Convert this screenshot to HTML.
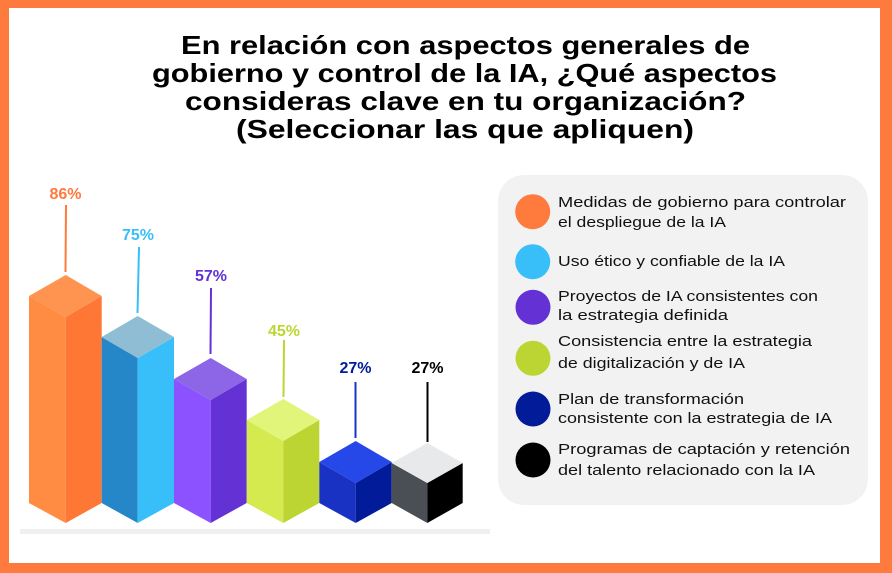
<!DOCTYPE html>
<html><head><meta charset="utf-8"><style>
html,body{margin:0;padding:0;background:#FF7A3D}
svg{display:block}
text{font-family:"Liberation Sans",sans-serif}
</style></head><body>
<svg width="892" height="573" viewBox="0 0 892 573" xmlns="http://www.w3.org/2000/svg">
<rect x="0" y="0" width="892" height="573" fill="#FF7A3D"/>
<rect x="9" y="8" width="871" height="555" fill="#FFFFFF"/>
<g font-weight="bold" font-size="26" fill="#000" text-anchor="start">
<text x="181" y="54" textLength="569" lengthAdjust="spacingAndGlyphs">En relación con aspectos generales de</text>
<text x="152" y="82" textLength="625" lengthAdjust="spacingAndGlyphs">gobierno y control de la IA, ¿Qué aspectos</text>
<text x="185" y="110" textLength="561" lengthAdjust="spacingAndGlyphs">consideras clave en tu organización?</text>
<text x="236" y="138" textLength="458" lengthAdjust="spacingAndGlyphs">(Seleccionar las que apliquen)</text>
</g>
<rect x="20" y="529" width="470" height="5" fill="#F0F0F0"/>
<!-- bars: center c, peak p -->
<g>
<!-- bar1 -->
<polygon points="29,296 65.7,317 65.7,523 29,503" fill="#FF8C42"/>
<polygon points="65.7,317 101.7,296 101.7,503 65.7,523" fill="#FF7735"/>
<polygon points="29,296 65.7,275 101.7,296 65.7,317" fill="#FF9450"/>
<!-- bar2 -->
<polygon points="101.7,337 137.7,358 137.7,523 101.7,503" fill="#2586C8"/>
<polygon points="137.7,358 174,337 174,503 137.7,523" fill="#38BFFA"/>
<polygon points="101.7,337 137.7,316 174,337 137.7,358" fill="#8FBDD3"/>
<!-- bar3 -->
<polygon points="174,379 210.7,400 210.7,523 174,503" fill="#8C52FF"/>
<polygon points="210.7,400 246.7,379 246.7,503 210.7,523" fill="#6331D4"/>
<polygon points="174,379 210.7,358 246.7,379 210.7,400" fill="#8C66E6"/>
<!-- bar4 -->
<polygon points="246.7,420 283.3,441 283.3,523 246.7,503" fill="#D4EA4F"/>
<polygon points="283.3,441 319.3,420 319.3,503 283.3,523" fill="#BCD532"/>
<polygon points="246.7,420 283.3,399 319.3,420 283.3,441" fill="#E1F57A"/>
<!-- bar5 -->
<polygon points="319.3,462 355.7,483 355.7,523 319.3,503" fill="#1932C4"/>
<polygon points="355.7,483 391.7,462 391.7,503 355.7,523" fill="#021B99"/>
<polygon points="319.3,462 355.7,441 391.7,462 355.7,483" fill="#2748E8"/>
<!-- bar6 -->
<polygon points="391.7,463 427.3,483 427.3,523 391.7,503" fill="#4A4F55"/>
<polygon points="427.3,483 462.7,463 462.7,503 427.3,523" fill="#000000"/>
<polygon points="391.7,463 427.3,443 462.7,463 427.3,483" fill="#E8E9EB"/>
</g>
<g stroke-width="2">
<line x1="66" y1="205" x2="65.5" y2="272" stroke="#FF7A3D"/>
<line x1="139" y1="247" x2="137.5" y2="313" stroke="#38BFFA"/>
<line x1="211" y1="288" x2="210.5" y2="354" stroke="#6331D4"/>
<line x1="284" y1="340" x2="283.5" y2="397" stroke="#BCD532"/>
<line x1="355.5" y1="382" x2="355.5" y2="438" stroke="#1932C4"/>
<line x1="427.5" y1="382" x2="427.5" y2="442" stroke="#000"/>
</g>
<g font-weight="bold" font-size="16" text-anchor="middle">
<text x="65.5" y="199" fill="#FF7A3D">86%</text>
<text x="138" y="240" fill="#38BFFA">75%</text>
<text x="211" y="281" fill="#6331D4">57%</text>
<text x="284" y="336" fill="#BCD532">45%</text>
<text x="355.5" y="373" fill="#021B99">27%</text>
<text x="427.5" y="373" fill="#000">27%</text>
</g>
<rect x="498" y="175" width="370" height="330" rx="26" fill="#F2F2F2"/>
<circle cx="532.7" cy="211.7" r="17.5" fill="#FF7A3D"/>
<circle cx="532.7" cy="261.7" r="17.5" fill="#38BFFA"/>
<circle cx="533" cy="307.3" r="17.5" fill="#6331D4"/>
<circle cx="533" cy="358.3" r="17.5" fill="#BCD532"/>
<circle cx="533" cy="409" r="17.5" fill="#021B99"/>
<circle cx="533" cy="460" r="17.5" fill="#000"/>
<g font-size="15" fill="#111">
<text x="558" y="207" textLength="288" lengthAdjust="spacingAndGlyphs">Medidas de gobierno para controlar</text>
<text x="558" y="227" textLength="168" lengthAdjust="spacingAndGlyphs">el despliegue de la IA</text>
<text x="558" y="266" textLength="227" lengthAdjust="spacingAndGlyphs">Uso ético y confiable de la IA</text>
<text x="558" y="301" textLength="260" lengthAdjust="spacingAndGlyphs">Proyectos de IA consistentes con</text>
<text x="558" y="320" textLength="170" lengthAdjust="spacingAndGlyphs">la estrategia definida</text>
<text x="558" y="346" textLength="254" lengthAdjust="spacingAndGlyphs">Consistencia entre la estrategia</text>
<text x="558" y="368" textLength="187" lengthAdjust="spacingAndGlyphs">de digitalización y de IA</text>
<text x="558" y="404" textLength="186" lengthAdjust="spacingAndGlyphs">Plan de transformación</text>
<text x="558" y="423" textLength="274" lengthAdjust="spacingAndGlyphs">consistente con la estrategia de IA</text>
<text x="558" y="454" textLength="292" lengthAdjust="spacingAndGlyphs">Programas de captación y retención</text>
<text x="558" y="475" textLength="257" lengthAdjust="spacingAndGlyphs">del talento relacionado con la IA</text>
</g>
</svg>
</body></html>
